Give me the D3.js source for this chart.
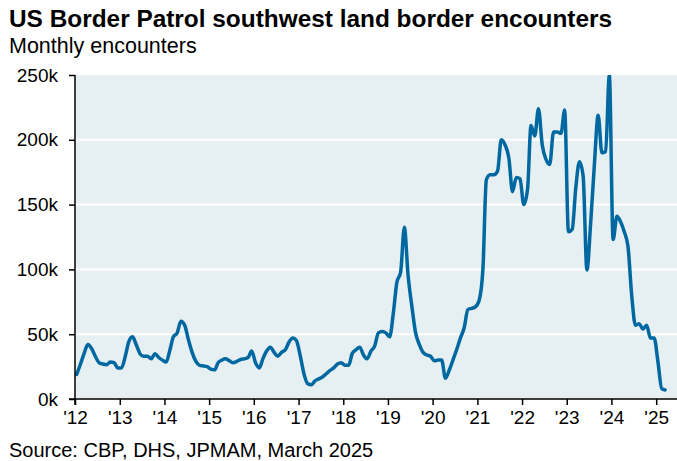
<!DOCTYPE html>
<html>
<head>
<meta charset="utf-8">
<script src="https://cdn.jsdelivr.net/npm/d3@7"></script>
<style>
  body { margin: 0; background: #fff; }
  svg text { font-family: "Liberation Sans", Arial, sans-serif; fill: #000; }
</style>
</head>
<body>
<div id="chart"></div>
<script>

// monthly encounters, thousands (Jan 2012 .. Mar 2025)
var y2012 = [19, 27, 35, 42, 39, 33, 28, 27, 26.5, 28.5, 28, 24];
var y2013 = [24, 33, 44, 48, 42, 35, 33, 33, 31, 35, 32, 30];
var y2014 = [28.5, 38, 48, 51, 60, 57, 46, 36, 29, 26, 25.5, 25];
var y2015 = [23, 22.5, 28, 30, 31, 29.5, 28, 29, 30.5, 31, 32, 37];
var y2016 = [28, 24, 31, 37, 40, 36, 33, 36, 38, 44, 47, 45];
var y2017 = [33, 19, 12, 11, 14, 15.5, 17, 19.5, 22, 24, 27, 28];
var y2018 = [26, 26, 35, 38, 40, 34, 31, 37, 41, 51, 52, 51];
var y2019 = [48, 67, 90, 98, 132.5, 95, 72, 51, 42, 36, 34, 33];
var y2020 = [29.5, 30, 30, 16, 22, 30, 38, 47, 55, 69, 70, 71];
var y2021 = [76, 100, 169, 173, 173, 176, 200, 196, 186, 160, 171, 170];
var y2022 = [150, 162, 211, 203, 224, 196, 185, 181, 206, 206, 205, 223];
var y2023 = [129, 131, 162, 183, 172, 99.5, 135, 181, 219, 190, 191, 250];
var y2024 = [123, 141, 137, 129, 118, 80, 57, 58, 54, 57, 47, 47];
var y2025 = [29, 8, 7];

var yTicks = [0, 50, 100, 150, 200, 250];

var years = [y2012, y2013, y2014, y2015, y2016, y2017, y2018, y2019,
             y2020, y2021, y2022, y2023, y2024, y2025];

var data = [];
years.forEach(function(vals, i){
  vals.forEach(function(v, m){
    data.push({ date: new Date(2012 + i, m, 15), value: v });
  });
});

var width = 677, height = 461;
var margin = { top: 75, right: 0, bottom: 62, left: 75 };

var svg = d3.select('#chart')
            .append('svg')
            .attr('width', width)
            .attr('height', height);

var x = d3.scaleTime()
          .domain([new Date(2012, 0, 1), new Date(2025, 5, 20)])
          .range([margin.left, width - margin.right]);

var y = d3.scaleLinear()
          .domain([0, 250])
          .range([height - margin.bottom, margin.top]);

// plot background
svg.append('rect')
   .attr('x', margin.left)
   .attr('y', margin.top)
   .attr('width', width - margin.right - margin.left)
   .attr('height', y(0) - margin.top)
   .attr('fill', '#e6eff2');

// gridlines
svg.append('g')
   .selectAll('line')
   .data(yTicks.filter(function(d){ return d > 0 && d < 250; }))
   .enter().append('line')
   .attr('x1', margin.left)
   .attr('x2', width - margin.right)
   .attr('y1', function(d){ return y(d); })
   .attr('y2', function(d){ return y(d); })
   .attr('stroke', '#fff')
   .attr('stroke-width', 2);

// line
svg.append('clipPath')
   .attr('id', 'plotclip')
   .append('rect')
   .attr('x', margin.left)
   .attr('y', margin.top)
   .attr('width', width - margin.left)
   .attr('height', y(0) - margin.top);

var line = d3.line()
             .x(function(d){ return x(d.date); })
             .y(function(d){ return y(d.value); })
             .curve(d3.curveMonotoneX);

svg.append('path')
   .datum(data)
   .attr('clip-path', 'url(#plotclip)')
   .attr('d', line)
   .attr('fill', 'none')
   .attr('stroke', '#0068a1')
   .attr('stroke-width', 3.5)
   .attr('stroke-linejoin', 'round')
   .attr('stroke-linecap', 'round');

// axes
var xAxis = d3.axisBottom(x)
              .ticks(d3.timeYear.every(1))
              .tickFormat(d3.timeFormat("'%y"))
              .tickSize(6)
              .tickSizeOuter(0);

var gx = svg.append('g')
            .attr('transform', 'translate(0,' + y(0) + ')')
            .call(xAxis);
gx.select('.domain').remove();
gx.append('line')
  .attr('x1', margin.left - 6)
  .attr('x2', width)
  .attr('stroke', '#000')
  .attr('stroke-width', 1.5);
gx.selectAll('.tick line').attr('stroke', '#000').attr('stroke-width', 1.5);
gx.selectAll('.tick text')
  .attr('y', 12)
  .attr('font-size', 19)
  .style('font-family', '"Liberation Sans", Arial, sans-serif');

var yAxis = d3.axisLeft(y)
              .tickValues(yTicks)
              .tickFormat(function(d){ return d + 'k'; })
              .tickSize(6)
              .tickSizeOuter(0);

var gy = svg.append('g')
            .attr('transform', 'translate(' + margin.left + ',0)')
            .call(yAxis);
gy.select('.domain').remove();
gy.append('line')
  .attr('y1', margin.top)
  .attr('y2', y(0) + 6)
  .attr('stroke', '#000')
  .attr('stroke-width', 1.5);
gy.selectAll('.tick line').attr('stroke', '#000').attr('stroke-width', 1.5);
gy.selectAll('.tick text')
  .attr('x', -17)
  .attr('font-size', 19)
  .style('font-family', '"Liberation Sans", Arial, sans-serif');

// titles
svg.append('text')
   .attr('x', 9)
   .attr('y', 27)
   .attr('font-size', 24.4)
   .attr('font-weight', 'bold')
   .text('US Border Patrol southwest land border encounters');

svg.append('text')
   .attr('x', 9)
   .attr('y', 53)
   .attr('font-size', 21.5)
   .text('Monthly encounters');

svg.append('text')
   .attr('x', 9)
   .attr('y', 457)
   .attr('font-size', 20)
   .text('Source: CBP, DHS, JPMAM, March 2025');

</script>
</body>
</html>
